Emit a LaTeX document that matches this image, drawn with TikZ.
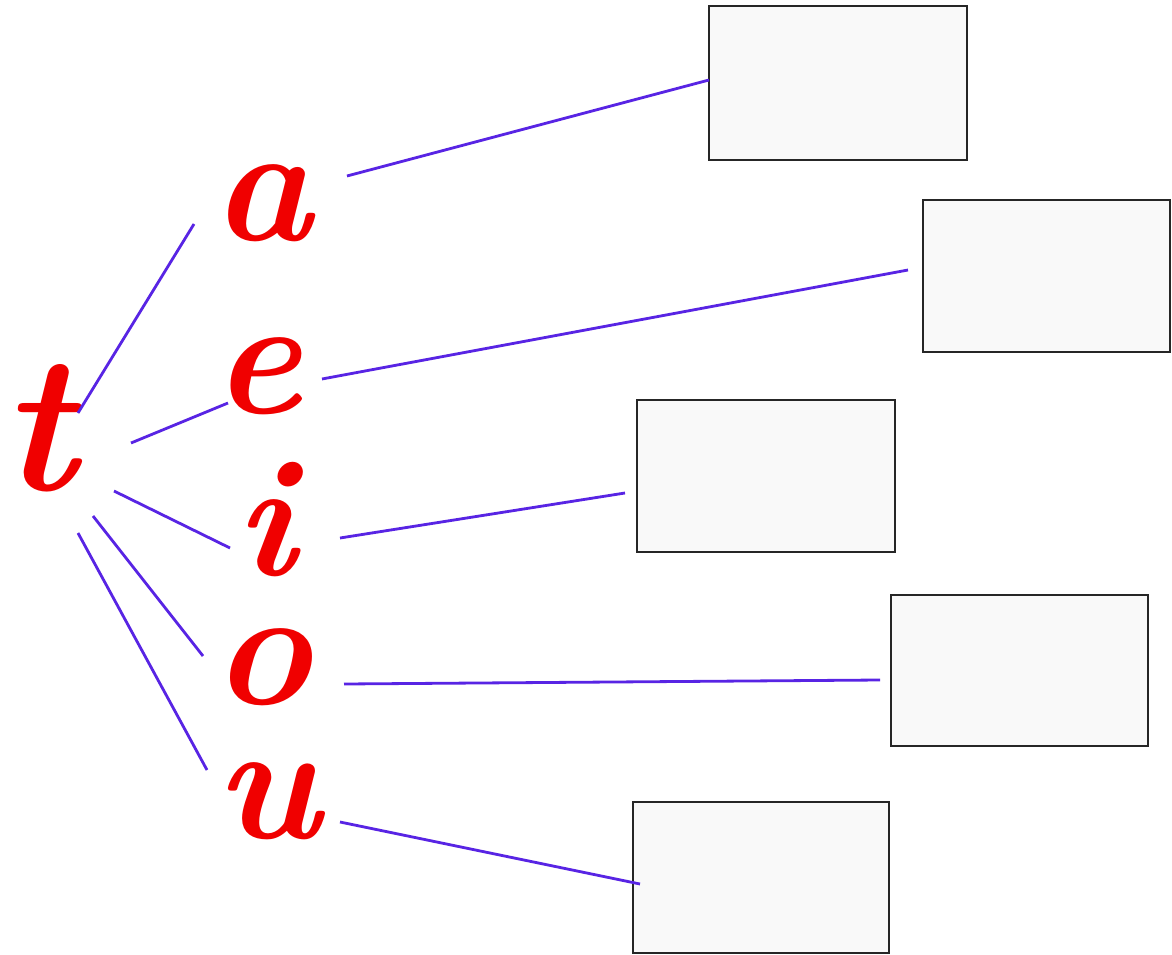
\documentclass[tikz,border=0pt]{standalone}
\usepackage{fontspec}
\definecolor{linkcol}{RGB}{88,36,228}
\definecolor{lettercol}{RGB}{240,0,0}
\definecolor{boxfill}{RGB}{249,249,249}
\begin{document}
\begin{tikzpicture}[x=1pt,y=-1pt,
  letter/.style={inner sep=0pt,anchor=base,text=lettercol,text depth=0pt,
    font=\fontsize{168}{168}\selectfont\bfseries\itshape},
  bigletter/.style={letter,font=\fontsize{196}{196}\selectfont\bfseries\itshape},
  answerbox/.style={draw=black!85,line width=2pt,fill=boxfill},
  link/.style={draw=linkcol,line width=2.8pt}]
\useasboundingbox[fill=white] (0,0) rectangle (1172,955);
% boxes
\path[answerbox] (709,6) rectangle (967,160);
\path[answerbox] (923,200) rectangle (1170,352);
\path[answerbox] (637,400) rectangle (895,552);
\path[answerbox] (891,595) rectangle (1148,746);
\path[answerbox] (633,802) rectangle (889,953);
% letters
\node[bigletter] (t) at (38,490) {t};
\node[letter] (a) at (262,240) {a};
\node[letter] (e) at (257,413) {e};
\node[letter] (i) at (265,575) {i};
\node[letter] (o) at (262,704) {o};
\node[letter] (u) at (268,838) {u};
% connector ends
\coordinate (ta) at (78,413);  \coordinate (at) at (194,224);
\coordinate (te) at (131,443); \coordinate (et) at (228,403);
\coordinate (ti) at (114,491); \coordinate (it) at (230,548);
\coordinate (to) at (93,516);  \coordinate (ot) at (203,656);
\coordinate (tu) at (78,533);  \coordinate (ut) at (207,770);
\coordinate (ab) at (347,176); \coordinate (b1) at (709,80);
\coordinate (eb) at (322,379); \coordinate (b2) at (908,270);
\coordinate (ib) at (340,538); \coordinate (b3) at (625,493);
\coordinate (ob) at (344,684); \coordinate (b4) at (880,680);
\coordinate (ub) at (340,822); \coordinate (b5) at (640,884);
\draw[link] (ta) -- (at);
\draw[link] (te) -- (et);
\draw[link] (ti) -- (it);
\draw[link] (to) -- (ot);
\draw[link] (tu) -- (ut);
\draw[link] (ab) -- (b1);
\draw[link] (eb) -- (b2);
\draw[link] (ib) -- (b3);
\draw[link] (ob) -- (b4);
\draw[link] (ub) -- (b5);
\end{tikzpicture}
\end{document}
